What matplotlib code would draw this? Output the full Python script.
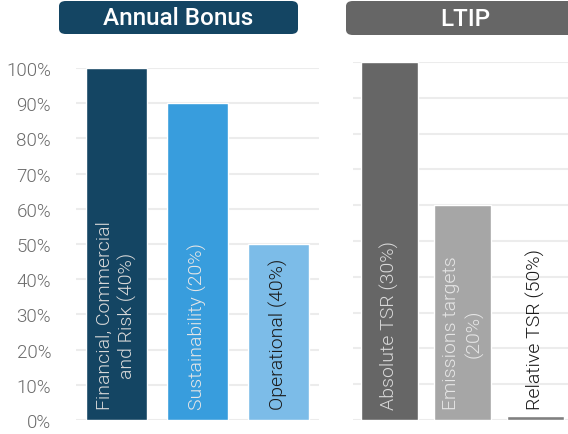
import matplotlib.pyplot as plt
from matplotlib.patches import FancyBboxPatch
from matplotlib.ticker import FuncFormatter

plt.rcParams['font.family'] = ['Roboto', 'DejaVu Sans']

# Annual Bonus measures
bonus_labels = ['Financial, Commercial\nand Risk (40%)', 'Sustainability (20%)', 'Operational (40%)']
bonus_values = [100, 90, 50]
bonus_colors = ['#144563', '#389ddd', '#7cbce8']
bonus_text_colors = ['#d9d9d9', '#e6e6e6', '#1a1a1a']

# LTIP measures
ltip_labels = ['Absolute TSR (30%)', 'Emissions targets\n(20%)', 'Relative TSR (50%)']
ltip_values = [100, 60, 1]
ltip_colors = ['#666666', '#a6a6a6', '#808080']
ltip_text_colors = ['#d9d9d9', '#e6e6e6', '#1a1a1a']

yticks = [0, 10, 20, 30, 40, 50, 60, 70, 80, 90, 100]

W, H = 568, 435
fig = plt.figure(figsize=(W / 100, H / 100), dpi=100)

def px_axes(x0, x1, y_top, y_base):
    return fig.add_axes([x0 / W, (H - y_base) / H, (x1 - x0) / W, (y_base - y_top) / H])

ax1 = px_axes(76, 319, 69, 421)
ax2 = px_axes(353, 572, 63, 421)

def draw_panel(ax, labels, values, colors, text_colors, width):
    xs = range(len(values))
    ax.bar(xs, values, width=width, color=colors, edgecolor='white', linewidth=1, zorder=2)
    for x, lab, tc in zip(xs, labels, text_colors):
        ax.text(x, 3.0, lab, rotation=90, ha='center', va='bottom', multialignment='center',
                color=tc, fontsize=14, fontweight=300, linespacing=1.3, zorder=3)
    ax.set_xlim(-0.5, 2.5)
    ax.set_ylim(0, 100)
    ax.set_yticks(yticks)
    ax.grid(axis='y', color='#ececec', linewidth=1.5, zorder=0)
    ax.set_axisbelow(True)
    ax.set_xticks([])
    for s in ax.spines.values():
        s.set_visible(False)
    ax.tick_params(axis='y', length=0)

draw_panel(ax1, bonus_labels, bonus_values, bonus_colors, bonus_text_colors, 0.75)
draw_panel(ax2, ltip_labels, ltip_values, ltip_colors, ltip_text_colors, 0.78)

ax1.yaxis.set_major_formatter(FuncFormatter(lambda v, p: f'{v:.0f}%'))
ax1.tick_params(axis='y', labelsize=13.5, labelcolor='#6b6b6b', pad=18)
for t in ax1.get_yticklabels():
    t.set_fontweight(300)
ax2.set_yticklabels([])

# heading boxes
def heading(x0, x1, y0, y1, text, color):
    box = FancyBboxPatch((x0 / W, 1 - y1 / H), (x1 - x0) / W, (y1 - y0) / H,
                         boxstyle='round,pad=0,rounding_size=0.012',
                         transform=fig.transFigure, facecolor=color, edgecolor='none')
    fig.patches.append(box)
    fig.text((x0 + x1) / 2 / W, 1 - (y0 + y1) / 2 / H, text, ha='center', va='center',
             color='white', fontsize=17.5, fontweight='medium')

heading(59, 298, 2, 35, 'Annual Bonus', '#144563')
heading(346, 584, 2, 36, 'LTIP', '#666666')

fig.savefig('out.png', dpi=100)
